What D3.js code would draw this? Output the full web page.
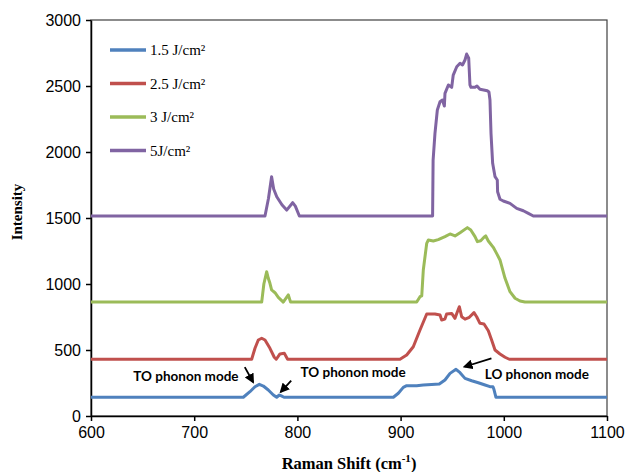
<!DOCTYPE html>
<html>
<head>
<meta charset="utf-8">
<script src="https://cdn.jsdelivr.net/npm/d3@7"></script>
<style>
  body { margin: 0; background: #fff; }
  .tick text { font-family: "Liberation Sans", Arial, sans-serif; font-size: 16px; fill: #000; }
  .tick line, .domain { stroke: #000; }
</style>
</head>
<body>
<svg width="628" height="472"></svg>
<script>
// Raman spectra
const shift15 = [600, 747.6, 754, 758.9, 763.1, 767, 771.8, 776.7, 779.9, 782.5, 784.5, 787, 893, 897.8, 902.6, 905.9, 915.6, 922, 930.1, 937.5, 943, 947.9, 953.7, 957.6, 962.4, 968.9, 975.3, 981.8, 986.6, 989.5, 990.5, 992.4, 1100];
const int15   = [142, 142, 184, 222, 240, 227, 197, 159, 142, 159, 152, 142, 142, 172, 217, 230, 230, 234, 239, 242, 273, 323, 354, 328, 285, 267, 252, 235, 222, 222, 200, 142, 142];

const shift25 = [600, 755.7, 758.9, 762.1, 765.4, 768.6, 773.4, 777.6, 779.5, 783.1, 787.3, 790.5, 899.4, 905.9, 912.3, 918.8, 925.3, 933.3, 938.2, 939.8, 942.9, 944.6, 949.5, 952.7, 954.3, 956.9, 959.2, 962.4, 966.6, 971.1, 973.7, 976.9, 980.8, 985, 988.2, 991.5, 996.3, 1001.2, 1005.3, 1100];
const int25   = [430, 430, 513, 576, 589, 576, 513, 445, 430, 470, 475, 430, 430, 462, 525, 652, 773, 773, 765, 727, 734, 773, 777, 740, 775, 828, 752, 734, 748, 783, 752, 702, 697, 646, 576, 500, 470, 445, 430, 430];

const shift3 = [600, 765.4, 767.5, 770.2, 771.8, 773.4, 775, 778.3, 781.5, 786.3, 791.2, 793.4, 915.6, 918.8, 920.5, 922, 925.3, 926.9, 931.7, 936.5, 943, 947.9, 952.7, 957.6, 964.7, 968, 972.1, 974.4, 977.6, 980.8, 982.5, 985, 989.8, 993, 996.3, 1001.2, 1006, 1010.9, 1015.7, 1020.5, 1100];
const int3   = [863, 863, 1000, 1093, 1043, 1005, 955, 934, 899, 863, 917, 863, 863, 904, 910, 1106, 1308, 1333, 1326, 1336, 1359, 1379, 1364, 1389, 1427, 1409, 1359, 1321, 1328, 1354, 1364, 1326, 1278, 1232, 1182, 1043, 942, 892, 871, 863, 863];

const shift5 = [600, 768.6, 772, 775, 777, 780, 785, 789.6, 795.4, 798, 801.9, 931, 931.5, 933.3, 935.6, 938.2, 940.5, 942.4, 943, 946.3, 949.5, 951, 954.4, 957.6, 960, 962.4, 964, 966, 967.2, 968.2, 972.1, 974, 976.9, 984, 985.6, 986.6, 987.6, 989.2, 991.5, 993.7, 994, 996.3, 999.5, 1006, 1012.5, 1018.9, 1023.8, 1028.6, 1100];
const int5   = [1515, 1515, 1650, 1813, 1720, 1661, 1600, 1560, 1616, 1590, 1515, 1515, 1939, 2141, 2318, 2381, 2394, 2348, 2444, 2508, 2490, 2583, 2646, 2672, 2659, 2697, 2742, 2710, 2508, 2490, 2490, 2500, 2475, 2464, 2455, 2394, 2141, 1914, 1813, 1788, 1699, 1642, 1629, 1611, 1573, 1555, 1535, 1515, 1515];

const seriesNames = ["1.5 J/cm²", "2.5 J/cm²", "3 J/cm²", "5J/cm²"];
const seriesColors = ["#4f81bd", "#c0504d", "#9bbb59", "#8064a2"];
const xTicks = [600, 700, 800, 900, 1000, 1100];
const yTicks = [0, 500, 1000, 1500, 2000, 2500, 3000];

// annotations: label, label position, arrow from -> to (data units)
const notes = [
  {text: "TO phonon mode", at: [692, 265], from: [749, 370], to: [757, 258]},
  {text: "TO phonon mode", at: [854, 295], from: [794, 268], to: [784, 183]},
  {text: "LO phonon mode", at: [1032, 280], from: [988, 437], to: [962, 373]}
];

const series = [
  {name: seriesNames[0], color: seriesColors[0], xs: shift15, ys: int15},
  {name: seriesNames[1], color: seriesColors[1], xs: shift25, ys: int25},
  {name: seriesNames[2], color: seriesColors[2], xs: shift3, ys: int3},
  {name: seriesNames[3], color: seriesColors[3], xs: shift5, ys: int5}
];

let svg = d3.select("svg");
let margin = {top: 20, right: 21, bottom: 56, left: 91};
let width = +svg.attr("width") - margin.left - margin.right,
    height = +svg.attr("height") - margin.top - margin.bottom;

let x = d3.scaleLinear().domain([600, 1100]).range([0, width]),
    y = d3.scaleLinear().domain([0, 3000]).range([height, 0]);

let g = svg.append("g")
  .attr("transform", "translate(" + margin.left + "," + margin.top + ")");

// plot area border
g.append("rect")
  .attr("width", width).attr("height", height)
  .attr("fill", "none").attr("stroke", "#404040").attr("stroke-width", 1.2);

g.append("g")
  .attr("transform", "translate(0," + height + ")")
  .call(d3.axisBottom(x).tickValues(xTicks).tickFormat(d3.format("d"))
    .tickSize(5).tickPadding(6).tickSizeOuter(0))
  .call(a => a.selectAll(".domain, line").attr("stroke-width", 1.5));

g.append("g")
  .call(d3.axisLeft(y).tickValues(yTicks).tickFormat(d3.format("d"))
    .tickSize(5).tickPadding(5).tickSizeOuter(0))
  .call(a => a.selectAll(".domain, line").attr("stroke-width", 1.5));

let line = d3.line().x(d => x(d[0])).y(d => y(d[1]));

series.forEach(s => {
  g.append("path")
    .datum(d3.zip(s.xs, s.ys))
    .attr("fill", "none")
    .attr("stroke", s.color)
    .attr("stroke-width", 3)
    .attr("stroke-linejoin", "round")
    .attr("d", line);
});

// legend
let legend = g.append("g").attr("transform", "translate(19,30)");
series.forEach((s, i) => {
  let row = legend.append("g").attr("transform", "translate(0," + (i * 33.5) + ")");
  row.append("line").attr("x1", 0).attr("x2", 36)
    .attr("stroke", s.color).attr("stroke-width", 3.5);
  row.append("text").attr("x", 40).attr("y", 5)
    .style("font-family", "'Liberation Serif', 'Times New Roman', serif")
    .style("font-size", "15px")
    .text(s.name);
});

// annotations
svg.append("defs").append("marker")
  .attr("id", "arrow").attr("viewBox", "0 0 10 10")
  .attr("refX", 8).attr("refY", 5)
  .attr("markerWidth", 5.5).attr("markerHeight", 5.5)
  .attr("orient", "auto")
  .append("path").attr("d", "M0,0 L10,5 L0,10 z").attr("fill", "#000");

notes.forEach(n => {
  g.append("text")
    .attr("x", x(n.at[0])).attr("y", y(n.at[1]))
    .attr("text-anchor", "middle")
    .style("font-family", "Lato, 'Open Sans', sans-serif")
    .style("font-weight", "bold")
    .style("font-size", "13.5px")
    .text(n.text);
  g.append("line")
    .attr("x1", x(n.from[0])).attr("y1", y(n.from[1]))
    .attr("x2", x(n.to[0])).attr("y2", y(n.to[1]))
    .attr("stroke", "#000").attr("stroke-width", 1.8)
    .attr("marker-end", "url(#arrow)");
});

// axis titles
svg.append("text")
  .attr("transform", "translate(22,212) rotate(-90)")
  .attr("text-anchor", "middle")
  .style("font-family", "'Liberation Serif', 'Times New Roman', serif")
  .style("font-weight", "bold").style("font-size", "15px")
  .text("Intensity");

let xt = svg.append("text")
  .attr("x", margin.left + width / 2).attr("y", 469)
  .attr("text-anchor", "middle")
  .style("font-family", "'Liberation Serif', 'Times New Roman', serif")
  .style("font-weight", "bold").style("font-size", "16.5px");
xt.append("tspan").text("Raman Shift (cm");
xt.append("tspan").attr("dy", -7).style("font-size", "11px").text("-1");
xt.append("tspan").attr("dy", 7).text(")");
</script>
</body>
</html>
